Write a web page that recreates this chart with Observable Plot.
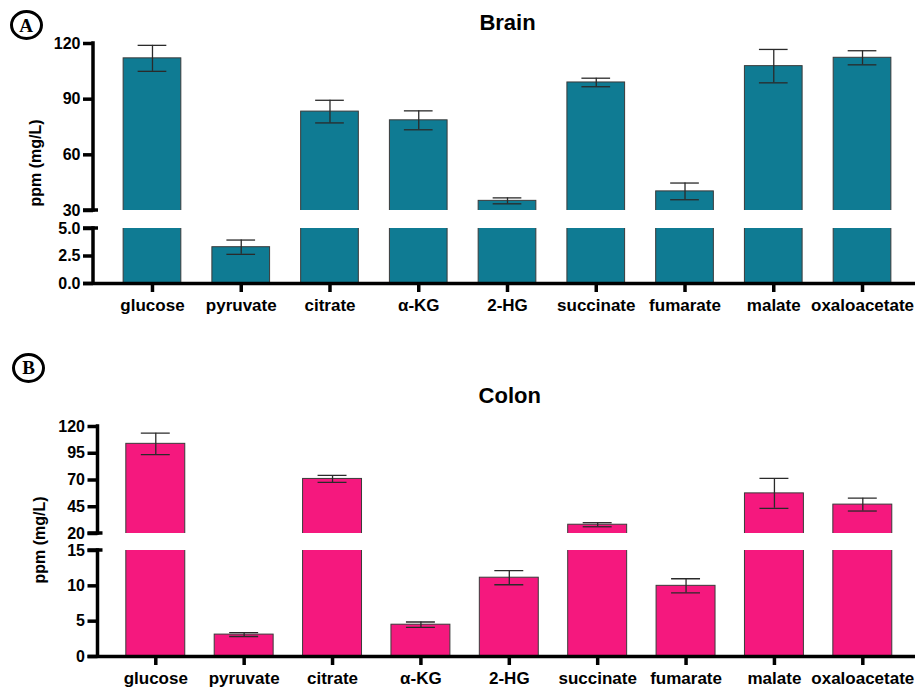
<!DOCTYPE html>
<html><head><meta charset="utf-8">
<script src="https://cdn.jsdelivr.net/npm/d3@7"></script>
<script src="https://cdn.jsdelivr.net/npm/@observablehq/plot@0.6"></script>
<style>
body{margin:0;background:#fff;}
#fig{position:relative;width:915px;height:690px;font-family:"Liberation Sans",Arial,sans-serif;color:#000;}
.part{position:absolute;left:0;}
.badge{position:absolute;box-sizing:border-box;border:3px solid #000;border-radius:50%;display:flex;align-items:center;justify-content:center;font-family:"Liberation Serif","DejaVu Serif",serif;font-weight:bold;font-size:19px;line-height:1;}
.ylab{position:absolute;transform:translate(-50%,-50%) rotate(-90deg);font-weight:bold;font-size:16px;white-space:nowrap;}
</style></head><body><div id="fig"></div>
<script>
const categories = ["glucose","pyruvate","citrate","α-KG","2-HG","succinate","fumarate","malate","oxaloacetate"];
const brainMean = [112, 3.3, 83.3, 78.6, 35.2, 99, 40.3, 107.8, 112.3];
const brainErr  = [7, 0.65, 6.1, 5.1, 1.6, 2.3, 4.5, 9, 3.8];
const colonMean = [103.8, 3.1, 71, 4.5, 11.15, 28.2, 10, 57.5, 47];
const colonErr  = [10, 0.27, 3.3, 0.38, 1, 1.9, 1, 14, 6];
const brainUpperTicks = [30, 60, 90, 120];
const brainLowerTicks = [0, 2.5, 5];
const colonUpperTicks = [20, 45, 70, 95, 120];
const colonLowerTicks = [0, 5, 10, 15];
const panelTitles = ["Brain", "Colon"];
const panelLetters = ["A", "B"];
const yLabel = "ppm (mg/L)";

const fig = document.getElementById("fig");

// y-axis spine with break cap
const spine = (lo, hi, cap) => (index, scales, values, dims) => {
  const g = d3.create("svg:g").attr("stroke", "#000").attr("stroke-width", 3.5).attr("fill", "none");
  const x0 = dims.marginLeft;
  g.append("line").attr("x1", x0).attr("x2", x0)
    .attr("y1", scales.y(lo)).attr("y2", scales.y(hi)).attr("stroke-linecap", "square");
  g.append("line").attr("x1", x0 - 10).attr("x2", x0 + 5)
    .attr("y1", scales.y(cap)).attr("y2", scales.y(cap));
  return g.node();
};

function segment(o) {
  const rows = categories.map((c, i) => ({c, m: o.mean[i], lo: o.mean[i] - o.err[i], hi: o.mean[i] + o.err[i]}));
  const marks = [
    Plot.barY(rows, {x: "c", y: "m", fill: o.color, stroke: "#3a3a3a", strokeWidth: 1, clip: true}),
    Plot.ruleX(rows, {x: "c", y1: "lo", y2: "hi", stroke: "#2a2a2a", strokeWidth: 1.3, clip: true}),
    Plot.tickY(rows, {x: "c", y: "hi", stroke: "#2a2a2a", strokeWidth: 1.3, inset: o.capInset, clip: true}),
    Plot.tickY(rows, {x: "c", y: "lo", stroke: "#2a2a2a", strokeWidth: 1.3, inset: o.capInset, clip: true}),
    Plot.axisY(o.ticks, {tickSize: 10, tickPadding: 3, strokeWidth: 3.5, fontSize: 16, fontWeight: "bold", tickFormat: o.tickFormat, label: null}),
    spine(o.domain[0], o.domain[1], o.cap)
  ];
  if (o.showX) {
    marks.push(Plot.ruleY([0], {insetLeft: -10, stroke: "#000", strokeWidth: 3.5}));
    marks.push(Plot.axisX({tickSize: 9, tickPadding: 6, strokeWidth: 3.5, fontSize: 17, fontWeight: "bold", label: null}));
  }
  if (o.title) {
    marks.push(Plot.text([o.title], {text: d => d, frameAnchor: "top", lineAnchor: "middle", dy: o.titleDy, dx: 3, fontSize: 22, fontWeight: "bold", fill: "#000"}));
  }
  const svg = Plot.plot({
    width: 915, height: o.height,
    marginTop: o.marginTop, marginBottom: o.marginBottom, marginLeft: o.axisX, marginRight: 0,
    x: {type: "band", domain: categories, range: o.xRange, paddingInner: o.pad, paddingOuter: o.pad / 2, align: 0.5, round: false, axis: null},
    y: {domain: o.domain, axis: null},
    style: {fontFamily: "'Liberation Sans', Arial, sans-serif", fontSize: "16px", color: "#000", background: "transparent", overflow: "visible"},
    marks
  });
  svg.classList.add("part");
  svg.style.top = o.top + "px";
  svg.style.position = "absolute";
  fig.appendChild(svg);
}

const fmt1 = d3.format(".1f");
const fmt0 = d3.format("d");

// Panel A (Brain)
const A = {mean: brainMean, err: brainErr, color: "#0f7b93", axisX: 93, xRange: [107.6, 906.4], pad: 0.35, capInset: 14.5};
segment({...A, domain: [30, 120], ticks: brainUpperTicks, tickFormat: fmt0, cap: 30,
  top: 0, height: 213, marginTop: 43, marginBottom: 3, title: panelTitles[0], titleDy: -21});
segment({...A, domain: [0, 5], ticks: brainLowerTicks, tickFormat: fmt1, cap: 5,
  top: 213, height: 110, marginTop: 15, marginBottom: 40, showX: true});

// Panel B (Colon)
const B = {mean: colonMean, err: colonErr, color: "#f5187e", axisX: 97.5, xRange: [111.1, 906.5], pad: 0.333, capInset: 15};
segment({...B, domain: [20, 120], ticks: colonUpperTicks, tickFormat: fmt0, cap: 20,
  top: 330, height: 206, marginTop: 96, marginBottom: 3, title: panelTitles[1], titleDy: -30.5});
segment({...B, domain: [0, 15], ticks: colonLowerTicks, tickFormat: fmt0, cap: 15,
  top: 536, height: 154, marginTop: 14, marginBottom: 34, showX: true});

// badges and y labels
function badge(letter, cx, cy) {
  const d = document.createElement("div");
  d.className = "badge";
  d.textContent = letter;
  d.style.left = (cx - 16.5) + "px"; d.style.top = (cy - 15) + "px";
  d.style.width = "33px"; d.style.height = "30px";
  fig.appendChild(d);
}
badge(panelLetters[0], 26, 25);
badge(panelLetters[1], 28.5, 367.5);
function ylab(cx, cy) {
  const d = document.createElement("div");
  d.className = "ylab";
  d.textContent = yLabel;
  d.style.left = cx + "px"; d.style.top = cy + "px";
  fig.appendChild(d);
}
ylab(36, 163);
ylab(40, 540);
</script></body></html>
